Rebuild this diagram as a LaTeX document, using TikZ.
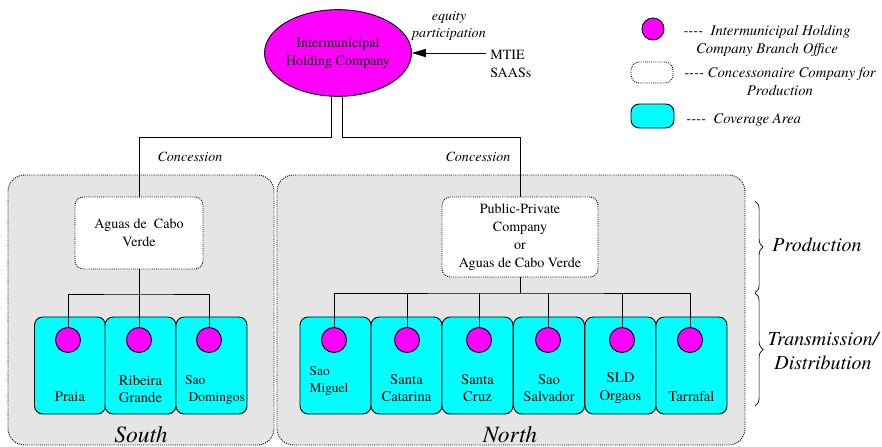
\documentclass[tikz,border=0pt]{standalone}
\usepackage{fontspec}
\setmainfont{TeX Gyre Termes}
\usetikzlibrary{shapes.geometric, arrows.meta, decorations.pathreplacing}
\definecolor{hubpink}{RGB}{255,0,255}
\definecolor{areacyan}{RGB}{0,255,255}
\definecolor{regiongray}{RGB}{229,229,229}
\newcommand{\keydash}{-{}-{}-{}-}

\begin{document}
\begin{tikzpicture}[x=0.03cm, y=-0.03cm, line width=0.8pt,
  office/.style={circle, draw, fill=hubpink, minimum size=0.75cm, inner sep=0pt},
  area/.style={draw, fill=areacyan, rounded corners=7pt, minimum width=2.13cm, minimum height=2.91cm},
  company/.style={draw, densely dotted, fill=white, rounded corners=7pt, align=center, inner sep=0pt, font=\fontsize{12}{15.3}\selectfont},
  region/.style={draw, densely dotted, fill=regiongray, rounded corners=14pt},
  place/.style={align=center, font=\fontsize{12.5}{15}\selectfont},
  note/.style={align=center, font=\itshape\fontsize{12}{15}\selectfont},
  keytext/.style={align=center, font=\itshape\fontsize{12.6}{15.5}\selectfont},
  side/.style={align=center, font=\itshape\fontsize{17}{20}\selectfont},
  big/.style={font=\itshape\fontsize{20}{24}\selectfont}]
\useasboundingbox (0,0) rectangle (882,447);

\draw[region] (8,175) rectangle (274,445);
\draw[region] (277,175) rectangle (745,445);

\node[ellipse, draw, fill=hubpink, minimum width=3.84cm, minimum height=2.6cm, inner sep=0pt, align=center, font=\fontsize{12}{15}\selectfont] (ihc) at (338,53) {Intermunicipal\\Holding Company};
\node[note] (equity) at (449,26) {equity\\participation};
\node[align=left, anchor=west, font=\fontsize{12}{16}\selectfont] (share) at (486,64) {MTIE\\SAASs};
\draw[-{Triangle[length=12pt,width=7pt]}] (share.west |- ihc.east) -- (ihc.east);

\node[company, minimum width=3.84cm, minimum height=2.16cm] (aguas) at (139,233) {Aguas de\ \ Cabo\\Verde};
\node[company, minimum width=4.68cm, minimum height=2.4cm] (pp) at (520,237) {Public-Private\\Company\\or\\Aguas de Cabo Verde};

\coordinate (scon) at (139,137);
\coordinate (ncon) at (520,137);
\draw (ihc.-98) |- (scon) -- (aguas.north);
\draw (ihc.-84) |- (ncon) -- (pp.north);
\node[note] (scon-t) at (190,157) {Concession};
\node[note] (ncon-t) at (478,157) {Concession};

\foreach \n/\x/\c in {praia/70/68, ribeira/140.5/139, domingos/211.5/209, miguel/335.5/334, catarina/406.5/407, cruz/477.5/479, salvador/549/548, orgaos/620.5/622, tarrafal/691.5/690} {
  \node[area] (\n) at (\x,365.5) {};
  \node[office] (\n-o) at (\c,340) {};
}

\node[place] (praia-t) at (70,397) {Praia};
\node[place] (ribeira-t) at (140.5,389) {Ribeira\\Grande};
\node[place, align=left, font=\fontsize{11.5}{15}\selectfont] (domingos-t) at (215,390) {Sao\\\hspace{3pt}Domingos};
\node[place, align=left, font=\fontsize{11.5}{15}\selectfont] (miguel-t) at (329,381) {Sao\\Miguel};
\node[place] (catarina-t) at (406.5,388) {Santa\\Catarina};
\node[place] (cruz-t) at (477.5,388) {Santa\\Cruz};
\node[place] (salvador-t) at (549,388) {Sao\\Salvador};
\node[place] (orgaos-t) at (620.5,388) {SLD\\Orgaos};
\node[place] (tarrafal-t) at (691.5,397) {Tarrafal};

\coordinate (sbar) at (139,294);
\draw (praia-o.north) |- (sbar) -| (domingos-o.north);
\draw (aguas.south) -- (ribeira-o.north);

\coordinate (nbar) at (520,293);
\draw (miguel-o.north) |- (nbar) -| (tarrafal-o.north);
\draw (pp.south) -- (nbar);
\foreach \n in {catarina, cruz, salvador, orgaos}
  \draw (\n-o.north) -- (\n-o.north |- nbar);

\node[big] (south-t) at (141,435) {South};
\node[big] (north-t) at (510,435) {North};

\coordinate (prod-top) at (755,201);
\coordinate (prod-bot) at (755,293);
\coordinate (tran-bot) at (755,406);
\draw[line width=0.6pt, decorate, decoration={brace, amplitude=7pt}] (prod-top) -- (prod-bot);
\draw[line width=0.6pt, decorate, decoration={brace, amplitude=7pt}] (prod-bot) -- (tran-bot);
\node[side, anchor=west] (prod-t) at (768,245) {Production};
\node[side] (tran-t) at (823,351) {Transmission/\\Distribution};

\node[office, minimum size=0.66cm] (key-o) at (653,29) {};
\node[keytext] (key-o-t) at (767,41) {\keydash\ \ Intermunicipal Holding\\Company Branch Office};
\node[company, minimum width=1.26cm, minimum height=0.63cm] (key-c) at (652,72.5) {};
\node[keytext] (key-c-t) at (780,82) {\keydash\ Concessonaire Company for\\Production};
\node[area, minimum width=1.29cm, minimum height=0.72cm] (key-a) at (652.5,116) {};
\node[keytext, anchor=west] (key-a-t) at (682,120) {\keydash\ \ Coverage Area};
\end{tikzpicture}
\end{document}
